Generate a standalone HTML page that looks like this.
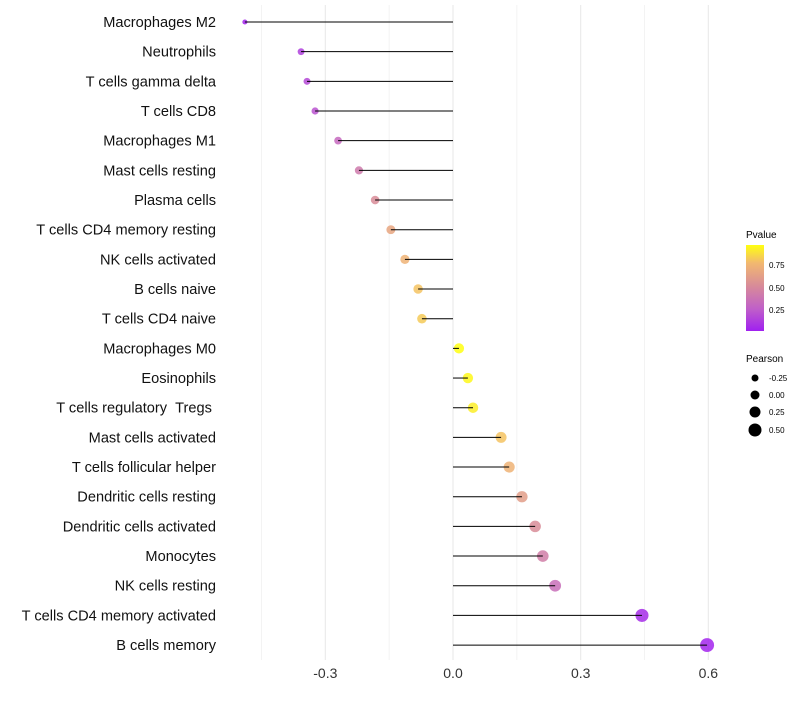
<!DOCTYPE html>
<html><head><meta charset="utf-8"><style>
body{margin:0;background:#fff;font-family:"Liberation Sans",sans-serif}
</style></head><body>
<svg id="chart" width="800" height="700" xmlns="http://www.w3.org/2000/svg">
<defs><linearGradient id="pg" x1="0" y1="1" x2="0" y2="0">
<stop offset="0" stop-color="#a020f0"/><stop offset="0.26" stop-color="#c060c8"/><stop offset="0.53" stop-color="#d88c98"/><stop offset="0.79" stop-color="#f2b870"/><stop offset="1" stop-color="#ffff10"/></linearGradient></defs>
<g id="grid"></g><g id="points"></g><g id="marks"></g><g id="labels"></g>
<g>
<text x="746" y="238" font-size="10">Pvalue</text>
<rect x="746" y="245" width="18" height="86" fill="url(#pg)"/>
<text x="769" y="268" font-size="8">0.75</text><text x="769" y="291" font-size="8">0.50</text><text x="769" y="313" font-size="8">0.25</text>
</g>
<g>
<text x="746" y="362" font-size="10">Pearson</text>
<circle cx="755" cy="378" r="3.5"/><text x="769" y="381" font-size="8">-0.25</text>
<circle cx="755" cy="395" r="4.5"/><text x="769" y="398" font-size="8">0.00</text>
<circle cx="755" cy="412" r="5.5"/><text x="769" y="415" font-size="8">0.25</text>
<circle cx="755" cy="430" r="6.5"/><text x="769" y="433" font-size="8">0.50</text>
</g>
</svg>
<script>
const cells=["Macrophages M2","Neutrophils","T cells gamma delta","T cells CD8","Macrophages M1","Mast cells resting","Plasma cells","T cells CD4 memory resting","NK cells activated","B cells naive","T cells CD4 naive","Macrophages M0","Eosinophils","T cells regulatory\u00a0\u00a0Tregs\u00a0","Mast cells activated","T cells follicular helper","Dendritic cells resting","Dendritic cells activated","Monocytes","NK cells resting","T cells CD4 memory activated","B cells memory"];
const pearson=[-0.489,-0.357,-0.343,-0.324,-0.270,-0.221,-0.183,-0.146,-0.113,-0.082,-0.073,0.014,0.035,0.047,0.113,0.132,0.162,0.193,0.211,0.240,0.444,0.597];
const pvalue=[0.02,0.12,0.16,0.2,0.3,0.4,0.5,0.65,0.72,0.78,0.8,0.95,0.93,0.9,0.78,0.72,0.6,0.5,0.42,0.33,0.05,0.02];
const ticks=[-0.3,0.0,0.3,0.6];
const NS="http://www.w3.org/2000/svg";
const x=v=>453+v*425.6, y=i=>22+i*29.67;
const stops=[[0,[160,32,240]],[0.25,[192,96,200]],[0.5,[216,140,152]],[0.75,[242,184,112]],[0.95,[255,255,16]]];
function col(p){p=Math.max(0,Math.min(0.95,p));for(let k=1;k<stops.length;k++){if(p<=stops[k][0]){const a=stops[k-1],b=stops[k],t=(p-a[0])/(b[0]-a[0]);return "rgb("+a[1].map((c,j)=>Math.round(c+(b[1][j]-c)*t)).join(",")+")";}}}
function mk(t,at,parent){const e=document.createElementNS(NS,t);for(const k in at)e.setAttribute(k,at[k]);document.getElementById(parent).appendChild(e);return e;}
[-0.45,-0.15,0.15,0.45].forEach(v=>{const l=mk("line",{x1:x(v),x2:x(v),y1:5,y2:660,stroke:"#f3f3f3","stroke-width":1},"grid");

});
ticks.forEach(v=>{const l=mk("line",{x1:x(v),x2:x(v),y1:5,y2:660,stroke:"#ebebeb","stroke-width":1.2},"grid");


const t=mk("text",{x:x(v),y:678,"font-size":14,"text-anchor":"middle",fill:"#333"},"labels");t.textContent=v.toFixed(1);

});
cells.forEach((c,i)=>{
const r=Math.sqrt(Math.max(1,39*(pearson[i]+0.656)));
const d=mk("circle",{cx:x(pearson[i]),cy:y(i),r:r,fill:col(pvalue[i]),"fill-opacity":0.85},"points");


const l=mk("line",{x1:x(0),x2:x(pearson[i]),y1:y(i),y2:y(i),stroke:"#000","stroke-width":1},"marks");


const t=mk("text",{x:216,y:y(i)+5,"font-size":14.6,"text-anchor":"end",fill:"#111"},"labels");t.textContent=c;


});
</script>
</body></html>
